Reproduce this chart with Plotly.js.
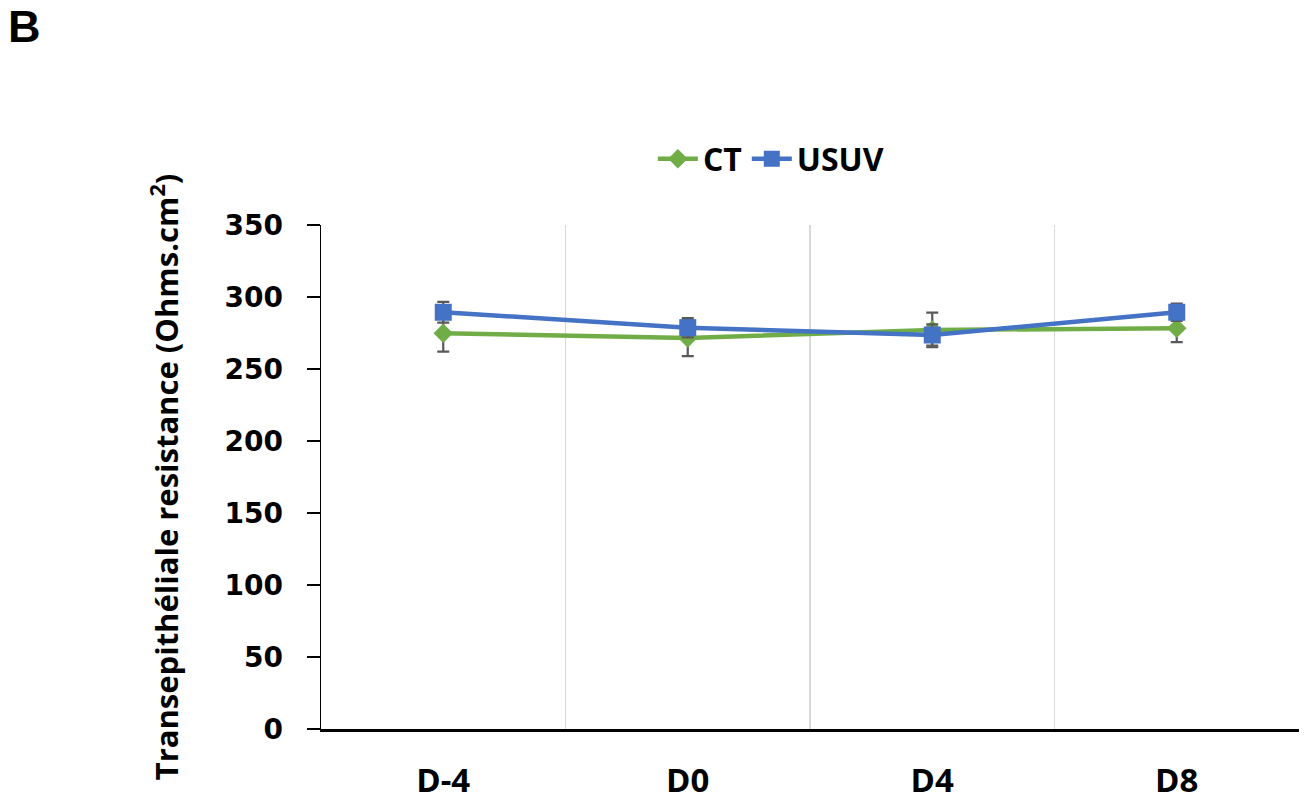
<!DOCTYPE html>
<html>
<head>
<meta charset="utf-8">
<script src="https://cdn.plot.ly/plotly-3.0.1.min.js"></script>
<style>html,body{margin:0;padding:0;background:#fff;}#chart{width:1315px;height:803px;}</style>
</head>
<body>
<div id="chart"></div>
<script>
var days = ["D-4", "D0", "D4", "D8"];
var ctValues = [274.8, 271.5, 277.1, 278.3];
var ctErrors = [12.8, 12.5, 12.0, 9.7];
var usuvValues = [289.4, 278.7, 273.6, 289.4];
var usuvErrors = [7.2, 6.7, 7.4, 6.0];
var yTicks = [0, 50, 100, 150, 200, 250, 300, 350];

var traces = [
  {
    x: days, y: ctValues, name: "CT", type: "scatter", mode: "lines+markers",
    line: {color: "#70AD47", width: 4.5},
    marker: {symbol: "diamond", size: 15, color: "#70AD47"},
    error_y: {type: "data", array: ctErrors, visible: true, color: "#595959", thickness: 2.2, width: 6}
  },
  {
    x: days, y: usuvValues, name: "USUV", type: "scatter", mode: "lines+markers",
    line: {color: "#4472C4", width: 4.5},
    marker: {symbol: "square", size: 17, color: "#4472C4"},
    error_y: {type: "data", array: usuvErrors, visible: true, color: "#595959", thickness: 2.2, width: 6}
  }
];

var layout = {
  width: 1315, height: 803,
  paper_bgcolor: "#ffffff", plot_bgcolor: "#ffffff",
  margin: {l: 321, r: 16, t: 225, b: 74},
  showlegend: true,
  legend: {
    orientation: "h", x: 0.46, xanchor: "center", y: 1.131, yanchor: "middle",
    font: {family: "Open Sans", size: 32, color: "#000000", weight: "bold"},
    itemwidth: 40, tracegroupgap: 0
  },
  xaxis: {
    type: "category", range: [-0.5, 3.5], tickson: "boundaries",
    showgrid: true, gridcolor: "#D9D9D9", gridwidth: 1.5,
    showline: true, linecolor: "#000000", linewidth: 2.5,
    ticks: "", ticklabelstandoff: 21,
    tickfont: {family: "Open Sans", size: 33, color: "#000000", weight: "bold"},
    zeroline: false, fixedrange: true
  },
  yaxis: {
    range: [0, 350], tickvals: yTicks, ticktext: yTicks.map(String),
    showgrid: false, zeroline: false,
    showline: true, linecolor: "#000000", linewidth: 1.5,
    ticks: "outside", ticklen: 13, tickwidth: 1.5, tickcolor: "#000000",
    ticklabelstandoff: 18,
    tickfont: {family: "DejaVu Sans", size: 28, color: "#000000", weight: "bold"},
    title: {
      text: "Transepithéliale resistance (Ohms.cm<sup>2</sup>)",
      font: {family: "Open Sans", size: 31, color: "#000000", weight: "bold"},
      standoff: 36
    },
    automargin: false, fixedrange: true
  },
  annotations: [{
    text: "B", xref: "paper", yref: "paper", x: -0.322, y: 1.393,
    xanchor: "left", yanchor: "middle", showarrow: false,
    font: {family: "Liberation Sans", size: 45, color: "#000000", weight: "bold"}
  }]
};

Plotly.newPlot("chart", traces, layout, {displayModeBar: false, staticPlot: true});
</script>
</body>
</html>
